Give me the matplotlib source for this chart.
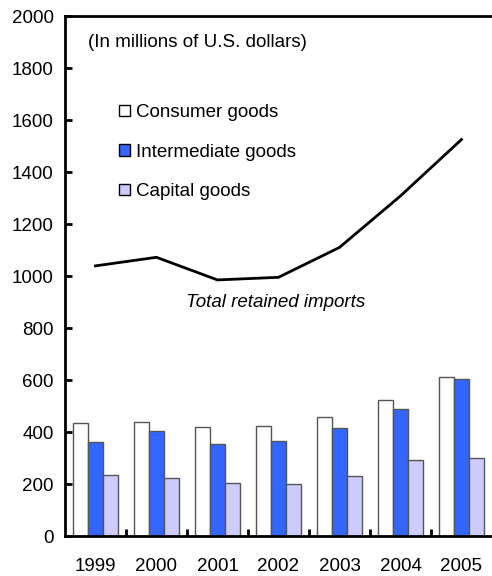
import numpy as np
import matplotlib.pyplot as plt
from matplotlib.patches import Patch

years = ["1999", "2000", "2001", "2002", "2003", "2004", "2005"]
consumer = [436, 440, 419, 423, 457, 523, 610]
intermediate = [363, 405, 353, 365, 417, 488, 605]
capital = [236, 222, 204, 200, 230, 292, 302]
total = [1039, 1072, 985, 995, 1110, 1308, 1525]

plt.rcParams["font.family"] = ["Liberation Sans", "DejaVu Sans"]
fs = 13.5

fig = plt.figure(figsize=(4.92, 5.76), dpi=100)
ax = fig.add_axes([0.132, 0.0694, 0.868, 0.9028])

x = np.arange(len(years))
w = 0.245
ax.bar(x - w, consumer, w, color="white", edgecolor="#555555", linewidth=1)
ax.bar(x, intermediate, w, color="#3366FF", edgecolor="#555555", linewidth=1)
ax.bar(x + w, capital, w, color="#CCCCFF", edgecolor="#555555", linewidth=1)
ax.plot(x, total, color="black", linewidth=2)

ax.set_xlim(-0.5, 6.5)
ax.set_ylim(0, 2000)
ax.set_yticks(range(0, 2001, 200))
ax.set_xticks(x)
ax.set_xticklabels(years)
ax.set_xticks(np.arange(0.5, 6.5, 1), minor=True)
ax.tick_params(axis="x", which="major", length=0, pad=16, labelsize=fs)
ax.tick_params(axis="x", which="minor", direction="in", length=5, width=2)
ax.tick_params(axis="y", direction="in", length=5, width=2, labelsize=fs, pad=8)

for s in ["left", "bottom", "top"]:
    ax.spines[s].set_linewidth(2)
ax.spines["right"].set_visible(False)

ax.text(0.054, 0.95, "(In millions of U.S. dollars)", transform=ax.transAxes,
        fontsize=fs, va="center", ha="left")
ax.text(2.95, 900, "Total retained imports", fontsize=fs, style="italic",
        ha="center", va="center")

handles = [
    Patch(facecolor="white", edgecolor="black", label="Consumer goods"),
    Patch(facecolor="#3366FF", edgecolor="black", label="Intermediate goods"),
    Patch(facecolor="#CCCCFF", edgecolor="black", label="Capital goods"),
]
ax.legend(handles=handles, loc="upper left", bbox_to_anchor=(0.108, 0.845),
          frameon=False, fontsize=fs, handlelength=0.6, handleheight=0.6,
          handletextpad=0.35, labelspacing=1.2, borderaxespad=0)

fig.savefig("out.png", dpi=100)
